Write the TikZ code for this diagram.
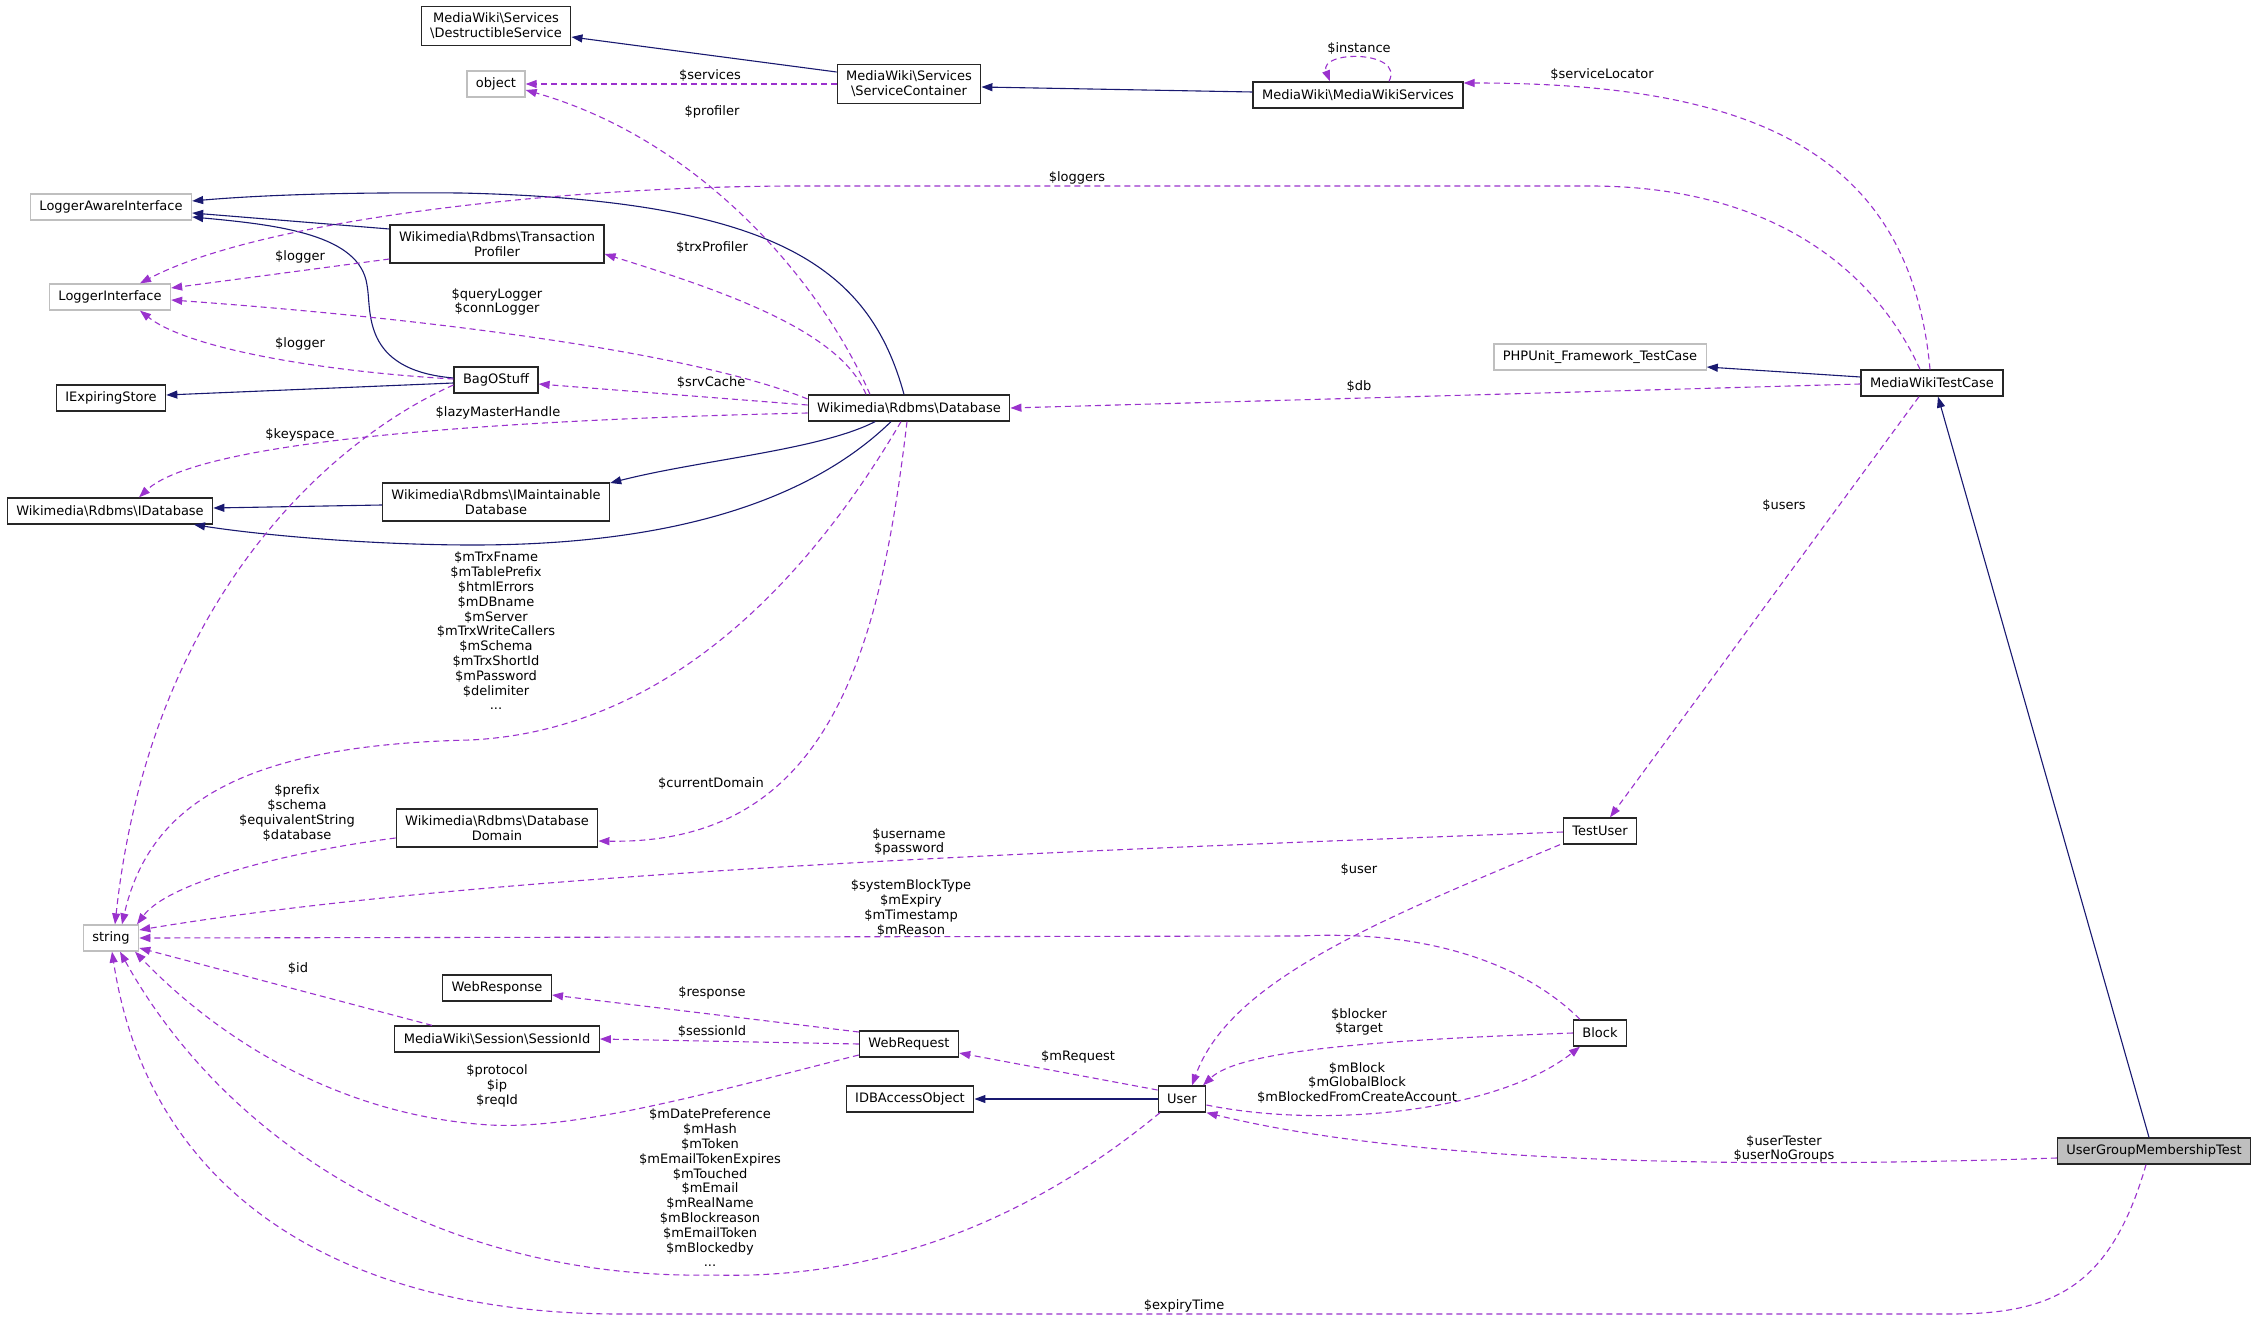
\documentclass[tikz,border=0pt]{standalone}
\usepackage{fontspec}
\setmainfont{DejaVu Sans}
\usetikzlibrary{arrows.meta}
\definecolor{mnblue}{HTML}{191970}
\definecolor{orchid}{HTML}{9A32CD}
\newcommand{\bsl}{\textbackslash}

\begin{document}
\begin{tikzpicture}[
  x=1pt, y=-1pt,
  font=\fontsize{13}{14.8}\selectfont,
  cls/.style={rectangle, draw=black!85, line width=1.3pt, fill=white,
    align=center, inner xsep=9pt, inner ysep=6.5pt, minimum height=26pt},
  extcls/.style={cls, draw=gray!50},
  curcls/.style={cls, fill=gray!50},
  inh/.style={-{Triangle[length=11pt,width=8pt]}, line width=1.1pt, draw=mnblue},
  use/.style={-{Triangle[length=11pt,width=8pt]}, line width=1.1pt, draw=orchid,
    dash pattern=on 6pt off 4pt},
  lbl/.style={align=center, inner sep=0pt},
]
\useasboundingbox (0,0) rectangle (2259,1321);
% ====== CLASSES ======
\node[cls] (dsvc) at (496,26) {MediaWiki\bsl Services\\\bsl DestructibleService};
\node[extcls] (obj) at (496,84) {object};
\node[cls] (svc) at (909,84) {MediaWiki\bsl Services\\\bsl ServiceContainer};
\node[cls] (mws) at (1358,95) {MediaWiki\bsl MediaWikiServices};
\node[extcls] (lai) at (111,207) {LoggerAwareInterface};
\node[cls] (tprof) at (497,244) {Wikimedia\bsl Rdbms\bsl Transaction\\Profiler};
\node[extcls] (li) at (110,297) {LoggerInterface};
\node[cls] (bag) at (496,380) {BagOStuff};
\node[cls] (ies) at (111,398) {IExpiringStore};
\node[cls] (db) at (909,408) {Wikimedia\bsl Rdbms\bsl Database};
\node[extcls] (phpu) at (1600,357) {PHPUnit\_Framework\_TestCase};
\node[cls] (mwtc) at (1932,383) {MediaWikiTestCase};
\node[cls] (idb) at (110,511) {Wikimedia\bsl Rdbms\bsl IDatabase};
\node[cls] (imd) at (496,502) {Wikimedia\bsl Rdbms\bsl IMaintainable\\Database};
\node[cls] (dom) at (497,828) {Wikimedia\bsl Rdbms\bsl Database\\Domain};
\node[cls] (tuser) at (1600,831) {TestUser};
\node[extcls] (str) at (111,938) {string};
\node[cls] (wresp) at (497,988) {WebResponse};
\node[cls] (sess) at (497,1039) {MediaWiki\bsl Session\bsl SessionId};
\node[cls] (wreq) at (909,1044) {WebRequest};
\node[cls] (block) at (1600,1033) {Block};
\node[cls] (idbao) at (910,1099) {IDBAccessObject};
\node[cls] (user) at (1182,1099) {User};
\node[curcls] (ugmt) at (2154,1151) {UserGroupMembershipTest};
%
% ====== INHERITANCE ======
\draw[inh] ([yshift=12pt]svc.west) -- ([yshift=-11pt]dsvc.east);
\draw[inh] ([yshift=3pt]mws.west) -- ([yshift=-3pt]svc.east);
\draw[inh] ([yshift=15pt]tprof.west) -- ([yshift=-6pt]lai.east);
\draw[inh] ([yshift=2pt]bag.west) .. controls (360,370) and (372,310) .. (367,285)
  .. controls (360,235) and (280,225) .. ([yshift=-10pt]lai.east);
\draw[inh] ([xshift=-5pt]db.north) .. controls (870,270) and (780,200) .. (460,193)
  .. controls (330,192) and (250,196) .. ([yshift=6pt]lai.east);
\draw[inh] ([yshift=-3pt]bag.west) -- ([yshift=3pt]ies.east);
\draw[inh] ([xshift=-34pt]db.south) .. controls (820,450) and (700,460) .. ([yshift=19pt]imd.east);
\draw[inh] ([yshift=-3pt]imd.west) -- ([yshift=3pt]idb.east);
\draw[inh] ([xshift=-18pt]db.south) .. controls (800,510) and (650,545) .. (473,545)
  .. controls (370,545) and (260,535) .. ([xshift=84pt]idb.south);
\draw[inh] (user.west) -- (idbao.east);
\draw[inh] ([yshift=6pt]mwtc.west) -- ([yshift=-10pt]phpu.east);
\draw[inh] ([xshift=-5pt]ugmt.north) -- ([xshift=6pt]mwtc.south);
%
% ====== MEMBERS (top) ======
\draw[use] (svc.west) -- (obj.east);
\node[lbl] (l_services) at (710,76) {\$services};
\draw[use] ([xshift=-39pt]db.north) .. controls (820,280) and (700,140) .. ([yshift=-6pt]obj.east);
\node[lbl] (l_profiler) at (712,112) {\$profiler};
\draw[use] ([xshift=31pt]mws.north) .. controls (1405,50) and (1318,50) .. ([xshift=-28pt]mws.north);
\node[lbl] (l_instance) at (1359,49) {\$instance};
\draw[use] ([xshift=-2pt]mwtc.north) .. controls (1910,150) and (1750,83) .. ([yshift=12pt]mws.east);
\node[lbl] (l_svcloc) at (1602,75) {\$serviceLocator};
\draw[use] ([xshift=-12pt]mwtc.north) .. controls (1870,260) and (1760,186) .. (1590,186)
  -- (800,186) .. controls (560,186) and (260,220) .. ([xshift=30pt]li.north);
\node[lbl] (l_loggers) at (1077,178) {\$loggers};
\draw[use] ([yshift=-15pt]tprof.west) -- ([yshift=9pt]li.east);
\node[lbl] (l_logger1) at (300,257) {\$logger};
\draw[use] ([xshift=-43pt]db.north) .. controls (840,330) and (720,290) .. ([yshift=-10pt]tprof.east);
\node[lbl] (l_trxprof) at (712,248) {\$trxProfiler};
\draw[use] ([yshift=9pt]db.west) .. controls (700,355) and (450,320) .. ([yshift=-3pt]li.east);
\node[lbl] (l_qlog) at (497,302) {\$queryLogger\\\$connLogger};
\draw[use] ([yshift=1pt]bag.west) .. controls (330,372) and (190,350) .. ([xshift=30pt]li.south);
\node[lbl] (l_logger2) at (300,344) {\$logger};
\draw[use] ([yshift=3pt]db.west) -- ([yshift=-4pt]bag.east);
\node[lbl] (l_srvcache) at (711,383) {\$srvCache};
\draw[use] ([yshift=-1pt]mwtc.west) -- (db.east);
\node[lbl] (l_db) at (1359,387) {\$db};
\draw[use] ([yshift=-5pt]db.west) .. controls (500,420) and (200,440) .. ([xshift=29pt]idb.north);
\node[lbl] (l_lazy) at (498,413) {\$lazyMasterHandle};
\draw[use] ([yshift=-5pt]bag.west) .. controls (330,440) and (150,600) .. ([xshift=4pt]str.north);
\node[lbl] (l_keyspace) at (300,435) {\$keyspace};
\draw[use] ([xshift=-13pt]mwtc.south) -- ([xshift=10pt]tuser.north);
\node[lbl] (l_users) at (1784,506) {\$users};
%
% ====== MEMBERS (middle) ======
\draw[use] ([xshift=-8pt]db.south) .. controls (820,560) and (680,730) .. (470,740)
  .. controls (250,745) and (150,800) .. ([xshift=11pt]str.north);
\node[lbl] (l_dbfields) at (496,631)
  {\$mTrxFname\\\$mTablePrefix\\\$htmlErrors\\\$mDBname\\\$mServer\\\$mTrxWriteCallers\\
   \$mSchema\\\$mTrxShortId\\\$mPassword\\\$delimiter\\...};
\draw[use] ([xshift=-2pt]db.south) .. controls (880,650) and (830,845) .. ([yshift=-13pt]dom.east);
\node[lbl] (l_curdom) at (711,784) {\$currentDomain};
\draw[use] ([yshift=-10pt]dom.west) .. controls (300,850) and (170,880) .. ([xshift=26pt]str.north);
\node[lbl] (l_domfields) at (297,813) {\$prefix\\\$schema\\\$equivalentString\\\$database};
\draw[use] ([yshift=-1pt]tuser.west) .. controls (1100,850) and (500,870) .. ([yshift=8pt]str.east);
\node[lbl] (l_userpw) at (909,842) {\$username\\\$password};
\draw[use] ([xshift=-20pt]block.north) .. controls (1520,960) and (1420,930) .. (1300,936)
  -- (str.east);
\node[lbl] (l_blockfields) at (911,908) {\$systemBlockType\\\$mExpiry\\\$mTimestamp\\\$mReason};
\draw[use] ([xshift=-40pt]tuser.south) .. controls (1380,920) and (1230,980) .. ([xshift=10pt]user.north);
\node[lbl] (l_user) at (1359,870) {\$user};
%
% ====== MEMBERS (bottom) ======
\draw[use] ([xshift=-65pt]sess.north) -- ([yshift=-10pt]str.east);
\node[lbl] (l_id) at (298,969) {\$id};
\draw[use] ([yshift=12pt]wreq.west) -- ([yshift=-7pt]wresp.east);
\node[lbl] (l_response) at (712,993) {\$response};
\draw[use] (wreq.west) -- (sess.east);
\node[lbl] (l_sessid) at (712,1032) {\$sessionId};
\draw[use] ([yshift=-11pt]wreq.west) .. controls (720,1090) and (580,1130) .. (490,1125)
  .. controls (330,1115) and (210,1030) .. ([xshift=24pt]str.south);
\node[lbl] (l_protocol) at (497,1086) {\$protocol\\\$ip\\\$reqId};
\draw[use] ([yshift=9pt]user.west) -- ([yshift=-9pt]wreq.east);
\node[lbl] (l_mrequest) at (1078,1057) {\$mRequest};
\draw[use] (block.west) .. controls (1380,1040) and (1240,1050) .. ([xshift=21pt]user.north);
\node[lbl] (l_blocker) at (1359,1022) {\$blocker\\\$target};
\draw[use] ([yshift=-6pt]user.east) .. controls (1330,1130) and (1500,1110) .. ([xshift=-20pt]block.south);
\node[lbl] (l_mblock) at (1357,1083) {\$mBlock\\\$mGlobalBlock\\\$mBlockedFromCreateAccount};
\draw[use] ([xshift=-22pt]user.south) .. controls (1030,1220) and (880,1280) .. (712,1275)
  .. controls (450,1280) and (230,1150) .. ([xshift=9pt]str.south);
\node[lbl] (l_userfields) at (710,1188)
  {\$mDatePreference\\\$mHash\\\$mToken\\\$mEmailTokenExpires\\\$mTouched\\\$mEmail\\
   \$mRealName\\\$mBlockreason\\\$mEmailToken\\\$mBlockedby\\...};
\draw[use] ([yshift=-7pt]ugmt.west) .. controls (1700,1170) and (1400,1160) .. (user.south east);
\node[lbl] (l_usertester) at (1784,1149) {\$userTester\\\$userNoGroups};
\draw[use] ([xshift=-8pt]ugmt.south) .. controls (2110,1290) and (2050,1314) .. (1950,1314)
  -- (620,1314) .. controls (350,1314) and (150,1200) .. ([xshift=1pt]str.south);
\node[lbl] (l_expiry) at (1184,1306) {\$expiryTime};
\end{tikzpicture}
\end{document}
